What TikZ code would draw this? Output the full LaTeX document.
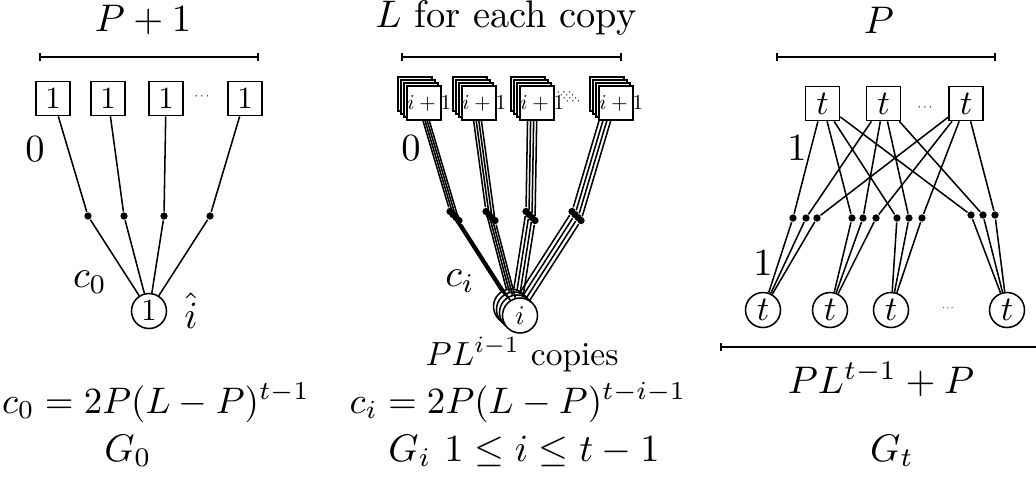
\documentclass[tikz,border=0pt]{standalone}
\usepackage{graphicx}
\usetikzlibrary{arrows.meta}
\begin{document}
\begin{tikzpicture}[x=0.26pt,y=-0.26pt,
  sq/.style={draw, fill=white, minimum size=8.85pt, inner sep=0pt},
  rnd/.style={draw, fill=white, circle, minimum size=9.1pt, inner sep=0pt},
  jn/.style={circle, fill, inner sep=0pt, minimum size=1.9pt},
  link/.style={line width=0.4pt},
  scalebar/.style={{Bar[width=2.2pt]}-{Bar[width=2.2pt]}, line width=0.4pt},
  lbl/.style={inner sep=0pt},
  smalldots/.style={inner sep=0pt}
]
\useasboundingbox (0,0) rectangle (1036,476);

% ---------------- G_0 ----------------
\node[lbl, anchor=base] (t0) at (143,31) {$P+1$};
\coordinate (s0l) at (39,57);
\coordinate (s0r) at (259,57);
\draw[scalebar] (s0l) -- (s0r);

\node[sq] (a1) at (53,98.5) {\scalebox{0.8}{$1$}};
\node[sq] (a2) at (108,98.5) {\scalebox{0.8}{$1$}};
\node[sq] (a3) at (166,98.5) {\scalebox{0.8}{$1$}};
\node[sq] (a4) at (245,98.5) {\scalebox{0.8}{$1$}};
\node[smalldots] (adots) at (202,97) {\scalebox{0.33}{$\cdots$}};
\node[jn] (aj1) at (88,216) {};
\node[jn] (aj2) at (124,216) {};
\node[jn] (aj3) at (164,216) {};
\node[jn] (aj4) at (210,216) {};
\node[rnd] (ar) at (149,311) {\scalebox{0.8}{$1$}};
\foreach \n in {1,2,3,4} {\draw[link] (a\n) -- (aj\n) -- (ar);}
\node[lbl] (l0a) at (35,149) {$0$};
\node[lbl] (l0c) at (90,282) {$c_0$};
\node[lbl] (l0i) at (191,311) {$\hat{i}$};
\node[lbl, anchor=base] (e0) at (156,413) {\scalebox{0.96}{$c_0=2P(L-P)^{t-1}$}};
\node[lbl, anchor=base] (g0) at (128,461) {$G_0$};

% ---------------- G_i ----------------
\node[lbl, anchor=base] (t1) at (506,27) {$L$ for each copy};
\coordinate (s1l) at (401,57);
\coordinate (s1r) at (622,57);
\draw[scalebar] (s1l) -- (s1r);

\foreach \k in {0,1,2,3} {
  \begin{scope}[shift={(362+3*\k,-4.5+3*\k)}]
    \foreach \n/\xx in {1/53,2/108,3/166,4/245} {
      \node[sq] (b\n-\k) at (\xx,98.5)
        {\ifnum\k=3 \makebox[8.6pt][l]{\scalebox{0.55}{$i+1$}}\fi};
    }
    \node[smalldots] (bdots-\k) at (202,97) {\scalebox{0.33}{$\cdots$}};
    \node[jn] (bj1-\k) at (88,216) {};
    \node[jn] (bj2-\k) at (124,216) {};
    \node[jn] (bj3-\k) at (164,216) {};
    \node[jn] (bj4-\k) at (210,216) {};
    \node[rnd] (br-\k) at (149,311) {\ifnum\k=3 \scalebox{0.7}{$i$}\fi};
    \foreach \n in {1,2,3,4} {\draw[link] (b\n-\k) -- (bj\n-\k) -- (br-\k);}
  \end{scope}
}
\node[lbl] (l1a) at (411,148) {$0$};
\node[lbl] (l1c) at (460,281) {$c_i$};
\node[lbl, anchor=base] (cp) at (522,365) {\scalebox{0.87}{$PL^{i-1}$ copies}};
\node[lbl, anchor=base] (e1) at (518,413) {\scalebox{0.96}{$c_i=2P(L-P)^{t-i-1}$}};
\node[lbl, anchor=base] (g1) at (524,461) {$G_i$ $1\leq i\leq t-1$};

% ---------------- G_t ----------------
\node[lbl, anchor=base] (t2) at (879,33) {$P$};
\coordinate (s2l) at (776,57);
\coordinate (s2r) at (996,57);
\draw[scalebar] (s2l) -- (s2r);

\node[sq] (c1) at (822.5,103.5) {\scalebox{0.9}{$t$}};
\node[sq] (c2) at (883.5,103.5) {\scalebox{0.9}{$t$}};
\node[sq] (c3) at (966,103.5) {\scalebox{0.9}{$t$}};
\node[smalldots] (cdots) at (925,108) {\scalebox{0.33}{$\cdots$}};

\node[rnd] (d1) at (763,310) {\scalebox{0.9}{$t$}};
\node[rnd] (d2) at (830,310) {\scalebox{0.9}{$t$}};
\node[rnd] (d3) at (891,310) {\scalebox{0.9}{$t$}};
\node[rnd] (d4) at (1007,310) {\scalebox{0.9}{$t$}};
\node[smalldots] (ddots) at (948,308) {\scalebox{0.25}{$\cdots$}};

\foreach \g/\xa/\xb/\xc/\yy in {1/793/806/817/218, 2/852/863/876/218, 3/897/909/922/218, 4/971/983/995/215} {
  \node[jn] (j\g1) at (\xa,\yy) {};
  \node[jn] (j\g2) at (\xb,\yy) {};
  \node[jn] (j\g3) at (\xc,\yy) {};
  \foreach \b in {1,2,3} {\draw[link] (c\b) -- (j\g\b) -- (d\g);}
}
\node[lbl] (l2a) at (797,148) {$1$};
\node[lbl] (l2b) at (763,263) {$1$};

\coordinate (s3l) at (720,347);
\coordinate (s3r) at (1042,347);
\draw[scalebar] (s3l) -- (s3r);
\node[lbl, anchor=base] (e2) at (881,393) {$PL^{t-1}+P$};
\node[lbl, anchor=base] (g2) at (892,461) {$G_t$};
\end{tikzpicture}
\end{document}
